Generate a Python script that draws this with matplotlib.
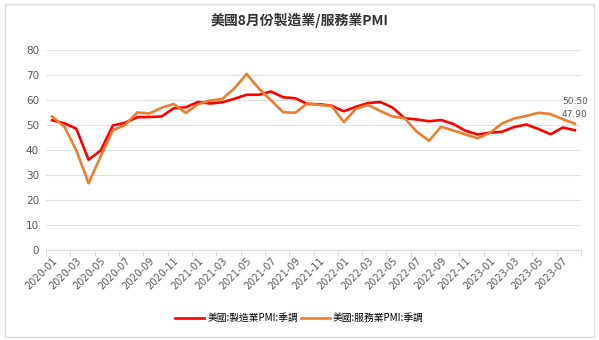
import matplotlib.pyplot as plt
from matplotlib.patches import Rectangle

plt.rcParams['font.family'] = ['Noto Sans CJK TC', 'DejaVu Sans']

# Monthly data, 2020-01 .. 2023-08
months = [f"{y}-{m:02d}" for y in range(2020, 2024) for m in range(1, 13)][:44]

manufacturing = [51.9, 50.7, 48.5, 36.1, 39.8, 49.8, 50.9, 53.1, 53.2, 53.4, 56.7, 57.1,
                 59.2, 58.6, 59.1, 60.5, 62.1, 62.1, 63.4, 61.1, 60.7, 58.4, 58.3, 57.7,
                 55.5, 57.3, 58.8, 59.2, 57.0, 52.7, 52.2, 51.5, 52.0, 50.4, 47.7, 46.2,
                 46.9, 47.3, 49.2, 50.2, 48.4, 46.3, 49.0, 47.9]
services = [53.4, 49.4, 39.8, 26.7, 37.5, 47.9, 50.0, 55.0, 54.6, 56.9, 58.4, 54.8,
            58.3, 59.8, 60.4, 64.7, 70.4, 64.6, 59.9, 55.1, 54.9, 58.7, 58.0, 57.6,
            51.2, 56.5, 58.0, 55.6, 53.4, 52.7, 47.3, 43.7, 49.3, 47.8, 46.2, 44.7,
            46.8, 50.6, 52.6, 53.6, 54.9, 54.4, 52.3, 50.5]

title = '美國8月份製造業/服務業PMI'
label_mfg = '美國:製造業PMI:季調'
label_srv = '美國:服務業PMI:季調'

fig = plt.figure(figsize=(5.99, 3.40), dpi=100)
ax = fig.add_axes([46 / 599, 1 - 250 / 340, 535 / 599, 200 / 340])

x = list(range(len(months)))
ax.plot(x, manufacturing, color='#FF0000', linewidth=1.9, label=label_mfg)
ax.plot(x, services, color='#ED7D31', linewidth=1.9, label=label_srv)

# end labels (they crowd each other in the original)
ax.annotate(f"{services[-1]:.2f}", (x[-1], services[-1]), xytext=(0, 14),
            textcoords='offset points', ha='center', fontsize=6.5, color='#595959',
            family='DejaVu Sans')
ax.annotate(f"{manufacturing[-1]:.2f}", (x[-1], manufacturing[-1]), xytext=(0, 9.5),
            textcoords='offset points', ha='center', fontsize=6.5, color='#595959',
            family='DejaVu Sans')

ax.set_xlim(-0.5, len(months) - 0.5)
ax.set_ylim(0, 80)
ax.set_yticks(range(0, 81, 10))
ax.grid(axis='y', color='#E0E0E0', linewidth=0.8)
ax.set_axisbelow(True)

ax.set_xticks(x[::2])
ax.set_xticklabels(months[::2], rotation=45, ha='right', rotation_mode='anchor')
ax.tick_params(axis='x', length=0, labelsize=7, labelcolor='#595959', pad=4)
ax.set_xticks([i - 0.5 for i in range(0, len(months) + 1, 2)], minor=True)
ax.tick_params(axis='x', which='minor', length=4, color='#D9D9D9')
ax.tick_params(axis='y', length=0, labelsize=7.5, labelcolor='#595959', pad=5)
for lbl in ax.get_xticklabels() + ax.get_yticklabels():
    lbl.set_family('DejaVu Sans')

for s in ['top', 'right', 'left']:
    ax.spines[s].set_visible(False)
ax.spines['bottom'].set_color('#D9D9D9')

fig.text(0.5, 1 - 20 / 340, title, ha='center', va='center', fontsize=10,
         color='#333333', fontweight='bold')

fig.legend(loc='center', bbox_to_anchor=(0.5, 1 - 318 / 340), ncol=2, frameon=False,
           fontsize=7, handlelength=3, columnspacing=0.3, handletextpad=0.3)

fig.patches.append(Rectangle((5 / 599, 3 / 340), 589 / 599, 333 / 340, transform=fig.transFigure,
                             fill=False, edgecolor='#D9D9D9', linewidth=1))

fig.savefig('out.png', dpi=100)
